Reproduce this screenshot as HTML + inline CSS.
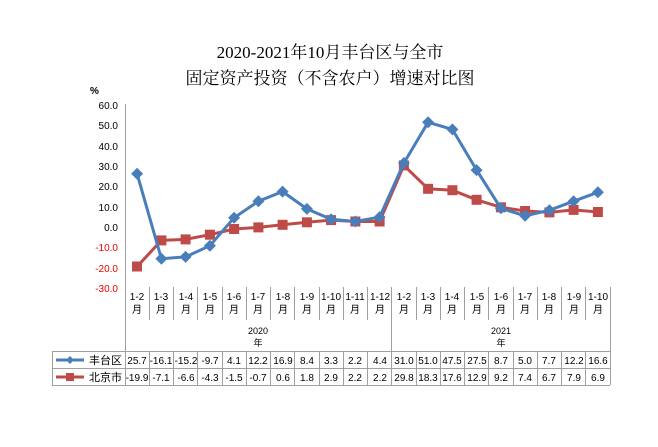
<!DOCTYPE html>
<html><head><meta charset="utf-8"><style>
body{margin:0;background:#fff}
svg{display:block}
text{font-family:"Liberation Sans","Noto Sans CJK SC",sans-serif;font-size:10px;fill:#000}
.t{font-family:"Liberation Serif","Noto Serif CJK SC",serif;font-size:17px}
</style></head><body>
<svg width="658" height="447" viewBox="0 0 658 447" xmlns="http://www.w3.org/2000/svg">
<text class="t" x="330" y="58" text-anchor="middle">2020-2021年10月丰台区与全市</text>
<text class="t" x="330" y="84" text-anchor="middle">固定资产投资（不含农户）增速对比图</text>
<text x="90" y="94" style="font-size:10px;font-weight:bold">%</text>
<g text-anchor="end" style="font-size:11px">
<text x="118" y="109">60.0</text><text x="118" y="129">50.0</text><text x="118" y="150">40.0</text>
<text x="118" y="170">30.0</text><text x="118" y="190">20.0</text><text x="118" y="211">10.0</text>
<text x="118" y="231">0.0</text>
<text x="118" y="251" style="fill:#e00">-10.0</text>
<text x="118" y="272" style="fill:#e00">-20.0</text>
<text x="118" y="292" style="fill:#e00">-30.0</text>
</g>
<g stroke="#a0a0a0" stroke-width="1">
<line x1="125.5" y1="104" x2="125.5" y2="385"/>
<line x1="149.5" y1="287" x2="149.5" y2="320"/><line x1="173.5" y1="287" x2="173.5" y2="320"/>
<line x1="197.5" y1="287" x2="197.5" y2="320"/><line x1="222.5" y1="287" x2="222.5" y2="320"/>
<line x1="246.5" y1="287" x2="246.5" y2="320"/><line x1="270.5" y1="287" x2="270.5" y2="320"/>
<line x1="294.5" y1="287" x2="294.5" y2="320"/><line x1="319.5" y1="287" x2="319.5" y2="320"/>
<line x1="343.5" y1="287" x2="343.5" y2="320"/><line x1="367.5" y1="287" x2="367.5" y2="320"/>
<line x1="391.5" y1="287" x2="391.5" y2="385"/>
<line x1="416.5" y1="287" x2="416.5" y2="320"/><line x1="440.5" y1="287" x2="440.5" y2="320"/>
<line x1="464.5" y1="287" x2="464.5" y2="320"/><line x1="488.5" y1="287" x2="488.5" y2="320"/>
<line x1="513.5" y1="287" x2="513.5" y2="320"/><line x1="537.5" y1="287" x2="537.5" y2="320"/>
<line x1="561.5" y1="287" x2="561.5" y2="320"/><line x1="585.5" y1="287" x2="585.5" y2="320"/>
<line x1="610.5" y1="287" x2="610.5" y2="385"/>
<line x1="52" y1="351.5" x2="610" y2="351.5"/><line x1="52" y1="368.5" x2="610" y2="368.5"/>
<line x1="52" y1="385.5" x2="610" y2="385.5"/><line x1="52.5" y1="351" x2="52.5" y2="385"/>
<line x1="149.5" y1="351" x2="149.5" y2="385"/><line x1="173.5" y1="351" x2="173.5" y2="385"/>
<line x1="197.5" y1="351" x2="197.5" y2="385"/><line x1="222.5" y1="351" x2="222.5" y2="385"/>
<line x1="246.5" y1="351" x2="246.5" y2="385"/><line x1="270.5" y1="351" x2="270.5" y2="385"/>
<line x1="294.5" y1="351" x2="294.5" y2="385"/><line x1="319.5" y1="351" x2="319.5" y2="385"/>
<line x1="343.5" y1="351" x2="343.5" y2="385"/><line x1="367.5" y1="351" x2="367.5" y2="385"/>
<line x1="416.5" y1="351" x2="416.5" y2="385"/><line x1="440.5" y1="351" x2="440.5" y2="385"/>
<line x1="464.5" y1="351" x2="464.5" y2="385"/><line x1="488.5" y1="351" x2="488.5" y2="385"/>
<line x1="513.5" y1="351" x2="513.5" y2="385"/><line x1="537.5" y1="351" x2="537.5" y2="385"/>
<line x1="561.5" y1="351" x2="561.5" y2="385"/><line x1="585.5" y1="351" x2="585.5" y2="385"/>
</g>
<g text-anchor="middle">
<text x="137" y="300">1-2</text><text x="137" y="313">月</text>
<text x="161" y="300">1-3</text><text x="161" y="313">月</text>
<text x="186" y="300">1-4</text><text x="186" y="313">月</text>
<text x="210" y="300">1-5</text><text x="210" y="313">月</text>
<text x="234" y="300">1-6</text><text x="234" y="313">月</text>
<text x="258" y="300">1-7</text><text x="258" y="313">月</text>
<text x="283" y="300">1-8</text><text x="283" y="313">月</text>
<text x="307" y="300">1-9</text><text x="307" y="313">月</text>
<text x="331" y="300">1-10</text><text x="331" y="313">月</text>
<text x="355" y="300">1-11</text><text x="355" y="313">月</text>
<text x="380" y="300">1-12</text><text x="380" y="313">月</text>
<text x="404" y="300">1-2</text><text x="404" y="313">月</text>
<text x="428" y="300">1-3</text><text x="428" y="313">月</text>
<text x="452" y="300">1-4</text><text x="452" y="313">月</text>
<text x="477" y="300">1-5</text><text x="477" y="313">月</text>
<text x="501" y="300">1-6</text><text x="501" y="313">月</text>
<text x="525" y="300">1-7</text><text x="525" y="313">月</text>
<text x="549" y="300">1-8</text><text x="549" y="313">月</text>
<text x="574" y="300">1-9</text><text x="574" y="313">月</text>
<text x="598" y="300">1-10</text><text x="598" y="313">月</text>
<text x="258" y="334" style="font-size:9px">2020</text><text x="258" y="346" style="font-size:9px">年</text>
<text x="501" y="334" style="font-size:9px">2021</text><text x="501" y="346" style="font-size:9px">年</text>
</g>
<g text-anchor="middle">
<text x="137" y="364">25.7</text><text x="161" y="364">-16.1</text><text x="186" y="364">-15.2</text><text x="210" y="364">-9.7</text><text x="234" y="364">4.1</text><text x="258" y="364">12.2</text><text x="283" y="364">16.9</text><text x="307" y="364">8.4</text><text x="331" y="364">3.3</text><text x="355" y="364">2.2</text><text x="380" y="364">4.4</text><text x="404" y="364">31.0</text><text x="428" y="364">51.0</text><text x="452" y="364">47.5</text><text x="477" y="364">27.5</text><text x="501" y="364">8.7</text><text x="525" y="364">5.0</text><text x="549" y="364">7.7</text><text x="574" y="364">12.2</text><text x="598" y="364">16.6</text>
<text x="137" y="381">-19.9</text><text x="161" y="381">-7.1</text><text x="186" y="381">-6.6</text><text x="210" y="381">-4.3</text><text x="234" y="381">-1.5</text><text x="258" y="381">-0.7</text><text x="283" y="381">0.6</text><text x="307" y="381">1.8</text><text x="331" y="381">2.9</text><text x="355" y="381">2.2</text><text x="380" y="381">2.2</text><text x="404" y="381">29.8</text><text x="428" y="381">18.3</text><text x="452" y="381">17.6</text><text x="477" y="381">12.9</text><text x="501" y="381">9.2</text><text x="525" y="381">7.4</text><text x="549" y="381">6.7</text><text x="574" y="381">7.9</text><text x="598" y="381">6.9</text>
</g>
<line x1="56" y1="360" x2="84" y2="360" stroke="#4a7ebb" stroke-width="3"/>
<path d="M70 356L74 360L70 364L66 360Z" fill="#4a7ebb"/>
<text x="89" y="364" style="font-size:11px">丰台区</text>
<line x1="56" y1="377" x2="84" y2="377" stroke="#be4b48" stroke-width="3"/>
<rect x="66" y="373" width="8" height="8" fill="#be4b48"/>
<text x="89" y="381" style="font-size:11px">北京市</text>
<polyline fill="none" stroke="#be4b48" stroke-width="3" points="137.1,266.5 161.4,240.4 185.6,239.4 209.9,234.7 234.1,229.0 258.4,227.4 282.6,224.8 306.9,222.3 331.1,220.1 355.4,221.5 379.6,221.5 403.9,165.4 428.1,188.8 452.4,190.2 476.6,199.8 500.9,207.3 525.1,211.0 549.4,212.4 573.6,209.9 597.9,212.0"/>
<g fill="#be4b48">
<rect x="132" y="261.5" width="10" height="10"/><rect x="156.4" y="235.4" width="10" height="10"/><rect x="180.6" y="234.4" width="10" height="10"/><rect x="204.9" y="229.7" width="10" height="10"/><rect x="229.1" y="224" width="10" height="10"/><rect x="253.4" y="222.4" width="10" height="10"/><rect x="277.6" y="219.8" width="10" height="10"/><rect x="301.9" y="217.3" width="10" height="10"/><rect x="326.1" y="215.1" width="10" height="10"/><rect x="350.4" y="216.5" width="10" height="10"/><rect x="374.6" y="216.5" width="10" height="10"/><rect x="398.9" y="160.4" width="10" height="10"/><rect x="423.1" y="183.8" width="10" height="10"/><rect x="447.4" y="185.2" width="10" height="10"/><rect x="471.6" y="194.8" width="10" height="10"/><rect x="495.9" y="202.3" width="10" height="10"/><rect x="520.1" y="206" width="10" height="10"/><rect x="544.4" y="207.4" width="10" height="10"/><rect x="568.6" y="204.9" width="10" height="10"/><rect x="592.9" y="207" width="10" height="10"/>
</g>
<polyline fill="none" stroke="#4a7ebb" stroke-width="3" points="137.1,173.8 161.4,258.7 185.6,256.9 209.9,245.7 234.1,217.7 258.4,201.2 282.6,191.6 306.9,208.9 331.1,219.3 355.4,221.5 379.6,217.1 403.9,163.0 428.1,122.3 452.4,129.4 476.6,170.1 500.9,208.3 525.1,215.8 549.4,210.3 573.6,201.2 597.9,192.3"/>
<g fill="#4a7ebb">
<path d="M137.1 167.8l6 6-6 6-6-6z"/><path d="M161.4 252.7l6 6-6 6-6-6z"/><path d="M185.6 250.9l6 6-6 6-6-6z"/><path d="M209.9 239.7l6 6-6 6-6-6z"/><path d="M234.1 211.7l6 6-6 6-6-6z"/><path d="M258.4 195.2l6 6-6 6-6-6z"/><path d="M282.6 185.6l6 6-6 6-6-6z"/><path d="M306.9 202.9l6 6-6 6-6-6z"/><path d="M331.1 213.3l6 6-6 6-6-6z"/><path d="M355.4 215.5l6 6-6 6-6-6z"/><path d="M379.6 211.1l6 6-6 6-6-6z"/><path d="M403.9 157l6 6-6 6-6-6z"/><path d="M428.1 116.3l6 6-6 6-6-6z"/><path d="M452.4 123.4l6 6-6 6-6-6z"/><path d="M476.6 164.1l6 6-6 6-6-6z"/><path d="M500.9 202.3l6 6-6 6-6-6z"/><path d="M525.1 209.8l6 6-6 6-6-6z"/><path d="M549.4 204.3l6 6-6 6-6-6z"/><path d="M573.6 195.2l6 6-6 6-6-6z"/><path d="M597.9 186.3l6 6-6 6-6-6z"/>
</g>
</svg>
</body></html>
